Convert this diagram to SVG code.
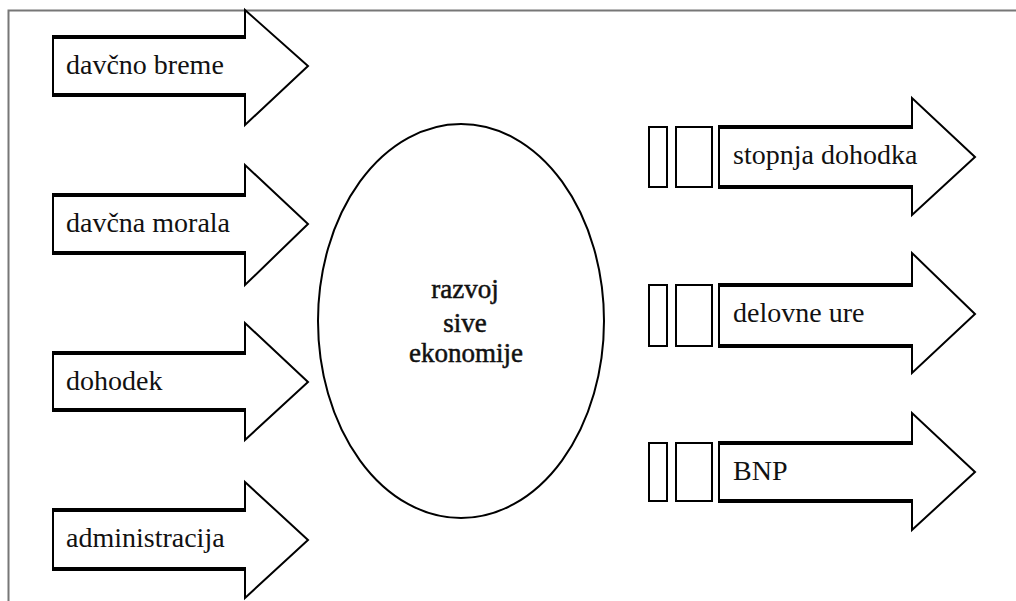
<svg xmlns="http://www.w3.org/2000/svg" width="1016" height="601" viewBox="0 0 1016 601">
<style>
.ar{fill:#fff;stroke:#000;stroke-width:2;stroke-linejoin:miter}
.th{stroke:#000;stroke-width:4;fill:none}
.sq{fill:#fff;stroke:#000;stroke-width:2}
.t{font-family:'Liberation Serif','Times New Roman',serif;font-size:28px;fill:#111}
.c{font-family:'Liberation Serif','Times New Roman',serif;font-size:27px;fill:#111;stroke:#111;stroke-width:0.5;text-anchor:middle}
</style>
<rect width="1016" height="601" fill="#fff"/>
<path d="M8.5,601 V10.5 H1016" fill="none" stroke="#777" stroke-width="2"/>
<g id="connectors"/>
<g id="n-davcno-breme">
<polygon class="ar" points="53,37 245,37 245,10 308,66 245,125 245,95 53,95"/>
<path class="th" d="M52,37 H246 M52,95 H246"/>
<text class="t" x="66" y="74">davčno breme</text>
</g>
<g id="n-davcna-morala">
<polygon class="ar" points="53,195 245,195 245,165 308,224 245,285 245,253 53,253"/>
<path class="th" d="M52,195 H246 M52,253 H246"/>
<text class="t" x="66" y="232">davčna morala</text>
</g>
<g id="n-dohodek">
<polygon class="ar" points="53,353 245,353 245,323 308,382 245,440 245,410 53,410"/>
<path class="th" d="M52,353 H246 M52,410 H246"/>
<text class="t" x="66" y="390">dohodek</text>
</g>
<g id="n-administracija">
<polygon class="ar" points="53,510 245,510 245,482 308,540 245,598 245,569 53,569"/>
<path class="th" d="M52,510 H246 M52,569 H246"/>
<text class="t" x="66" y="547">administracija</text>
</g>
<g id="n-razvoj">
<ellipse cx="461" cy="321" rx="143" ry="197" fill="#fff" stroke="#000" stroke-width="2"/>
<text class="c" x="465" y="298">razvoj</text>
<text class="c" x="465" y="332">sive</text>
<text class="c" x="466" y="362">ekonomije</text>
</g>
<g id="n-stopnja-dohodka">
<rect class="sq" x="649" y="127" width="18" height="60"/>
<rect class="sq" x="676" y="127" width="36" height="60"/>
<polygon class="ar" points="719,127 912,127 912,98 975,157 912,215 912,187 719,187"/>
<path class="th" d="M718,127 H913 M718,187 H913"/>
<text class="t" x="733" y="164">stopnja dohodka</text>
</g>
<g id="n-delovne-ure">
<rect class="sq" x="649" y="285" width="18" height="61"/>
<rect class="sq" x="676" y="285" width="36" height="61"/>
<polygon class="ar" points="719,285 912,285 912,253 975,314 912,373 912,346 719,346"/>
<path class="th" d="M718,285 H913 M718,346 H913"/>
<text class="t" x="733" y="322">delovne ure</text>
</g>
<g id="n-bnp">
<rect class="sq" x="649" y="443" width="18" height="58"/>
<rect class="sq" x="676" y="443" width="36" height="58"/>
<polygon class="ar" points="719,443 912,443 912,413 975,472 912,530 912,501 719,501"/>
<path class="th" d="M718,443 H913 M718,501 H913"/>
<text class="t" x="733" y="480">BNP</text>
</g>
</svg>
